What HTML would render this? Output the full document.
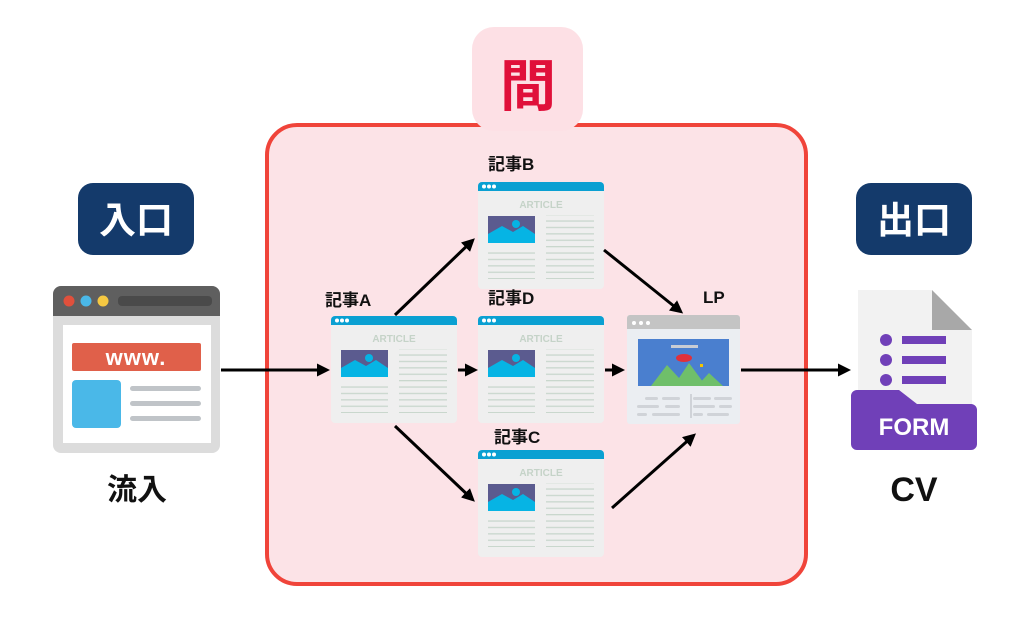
<!DOCTYPE html>
<html><head><meta charset="utf-8"><style>
html,body{margin:0;padding:0;background:#fff;width:1024px;height:625px;overflow:hidden}
svg{display:block}
text{font-family:"Liberation Sans","Noto Sans CJK JP",sans-serif;font-weight:bold}
</style></head><body>
<svg width="1024" height="625" viewBox="0 0 1024 625" xmlns="http://www.w3.org/2000/svg">
<defs>
<pattern id="ln" width="10" height="6.4" patternUnits="userSpaceOnUse"><rect width="10" height="1.3" fill="#c9d7cd"/></pattern>
<marker id="ah" markerWidth="13" markerHeight="13" refX="9" refY="6.5" orient="auto" markerUnits="userSpaceOnUse"><path d="M0,0 L13,6.5 L0,13 z" fill="#000"/></marker>
</defs>

<rect x="267" y="125" width="539" height="459" rx="30" fill="#fce3e7" stroke="#f0443a" stroke-width="4"/>
<rect x="472" y="27" width="111" height="104" rx="22" fill="#fde0e5"/>
<text x="528" y="106" font-size="56" fill="#e0103a" text-anchor="middle">間</text>

<rect x="78" y="183" width="116" height="72" rx="15" fill="#143a6b"/>
<text x="136" y="233" font-size="37" fill="#fff" text-anchor="middle">入口</text>
<rect x="856" y="183" width="116" height="72" rx="15" fill="#143a6b"/>
<text x="914" y="233" font-size="37" fill="#fff" text-anchor="middle">出口</text>

<rect x="53" y="286" width="167" height="167" rx="8" fill="#dcdcdc"/>
<path d="M53,294 a8,8 0 0 1 8,-8 h151 a8,8 0 0 1 8,8 v22 h-167z" fill="#5f5f5f"/>
<circle cx="69" cy="301" r="5.5" fill="#e0503c"/><circle cx="86" cy="301" r="5.5" fill="#4ab8e8"/><circle cx="103" cy="301" r="5.5" fill="#f5c842"/>
<rect x="118" y="296" width="94" height="10" rx="4" fill="#4a4a4a"/>
<rect x="63" y="325" width="148" height="118" fill="#fff"/>
<rect x="72" y="343" width="129" height="28" rx="2" fill="#e0604a"/>
<text x="136" y="365" font-size="22" fill="#fff" text-anchor="middle" letter-spacing="1">www.</text>
<rect x="72" y="380" width="49" height="48" rx="4" fill="#4ab8e8"/>
<rect x="130" y="386" width="71" height="5" rx="2.5" fill="#c0c4c8"/>
<rect x="130" y="401" width="71" height="5" rx="2.5" fill="#c0c4c8"/>
<rect x="130" y="416" width="71" height="5" rx="2.5" fill="#c0c4c8"/>
<text x="137" y="500" font-size="30" fill="#111" text-anchor="middle">流入</text>

<g transform="translate(331,316)">
<rect width="126" height="107" rx="4" fill="#efefef"/><path d="M0,4 a4,4 0 0 1 4,-4 h118 a4,4 0 0 1 4,4 v5 h-126z" fill="#0aa0d2"/>
<circle cx="6" cy="4.5" r="2" fill="#fff"/><circle cx="11" cy="4.5" r="2" fill="#fff"/><circle cx="16" cy="4.5" r="2" fill="#fff"/>
<text x="63" y="26" font-size="10" fill="#c5d3c8" text-anchor="middle">ARTICLE</text>
<rect x="10" y="34" width="47" height="27" fill="#5b5b8f"/><path d="M10,61 L10,52 L24,44 L35,50 L45,44 L57,52 L57,61z" fill="#06b4e4"/><circle cx="38" cy="42" r="4" fill="#06b4e4"/>
<rect x="68" y="33" width="48" height="64" fill="url(#ln)"/><rect x="10" y="67" width="47" height="30" fill="url(#ln)"/>
</g>
<g transform="translate(478,182)">
<rect width="126" height="107" rx="4" fill="#efefef"/><path d="M0,4 a4,4 0 0 1 4,-4 h118 a4,4 0 0 1 4,4 v5 h-126z" fill="#0aa0d2"/>
<circle cx="6" cy="4.5" r="2" fill="#fff"/><circle cx="11" cy="4.5" r="2" fill="#fff"/><circle cx="16" cy="4.5" r="2" fill="#fff"/>
<text x="63" y="26" font-size="10" fill="#c5d3c8" text-anchor="middle">ARTICLE</text>
<rect x="10" y="34" width="47" height="27" fill="#5b5b8f"/><path d="M10,61 L10,52 L24,44 L35,50 L45,44 L57,52 L57,61z" fill="#06b4e4"/><circle cx="38" cy="42" r="4" fill="#06b4e4"/>
<rect x="68" y="33" width="48" height="64" fill="url(#ln)"/><rect x="10" y="67" width="47" height="30" fill="url(#ln)"/>
</g>
<g transform="translate(478,316)">
<rect width="126" height="107" rx="4" fill="#efefef"/><path d="M0,4 a4,4 0 0 1 4,-4 h118 a4,4 0 0 1 4,4 v5 h-126z" fill="#0aa0d2"/>
<circle cx="6" cy="4.5" r="2" fill="#fff"/><circle cx="11" cy="4.5" r="2" fill="#fff"/><circle cx="16" cy="4.5" r="2" fill="#fff"/>
<text x="63" y="26" font-size="10" fill="#c5d3c8" text-anchor="middle">ARTICLE</text>
<rect x="10" y="34" width="47" height="27" fill="#5b5b8f"/><path d="M10,61 L10,52 L24,44 L35,50 L45,44 L57,52 L57,61z" fill="#06b4e4"/><circle cx="38" cy="42" r="4" fill="#06b4e4"/>
<rect x="68" y="33" width="48" height="64" fill="url(#ln)"/><rect x="10" y="67" width="47" height="30" fill="url(#ln)"/>
</g>
<g transform="translate(478,450)">
<rect width="126" height="107" rx="4" fill="#efefef"/><path d="M0,4 a4,4 0 0 1 4,-4 h118 a4,4 0 0 1 4,4 v5 h-126z" fill="#0aa0d2"/>
<circle cx="6" cy="4.5" r="2" fill="#fff"/><circle cx="11" cy="4.5" r="2" fill="#fff"/><circle cx="16" cy="4.5" r="2" fill="#fff"/>
<text x="63" y="26" font-size="10" fill="#c5d3c8" text-anchor="middle">ARTICLE</text>
<rect x="10" y="34" width="47" height="27" fill="#5b5b8f"/><path d="M10,61 L10,52 L24,44 L35,50 L45,44 L57,52 L57,61z" fill="#06b4e4"/><circle cx="38" cy="42" r="4" fill="#06b4e4"/>
<rect x="68" y="33" width="48" height="64" fill="url(#ln)"/><rect x="10" y="67" width="47" height="30" fill="url(#ln)"/>
</g>
<text x="325" y="306" font-size="17" fill="#111">記事A</text>
<text x="488" y="170" font-size="17" fill="#111">記事B</text>
<text x="488" y="304" font-size="17" fill="#111">記事D</text>
<text x="494" y="443" font-size="17" fill="#111">記事C</text>

<g transform="translate(627,315)">
<rect width="113" height="109" rx="3" fill="#ebeef2"/>
<path d="M0,3 a3,3 0 0 1 3,-3 h107 a3,3 0 0 1 3,3 v11 h-113z" fill="#c4c4c4"/>
<circle cx="7" cy="8" r="2" fill="#fff"/><circle cx="14" cy="8" r="2" fill="#fff"/><circle cx="21" cy="8" r="2" fill="#fff"/>
<rect x="11" y="24" width="91" height="47" fill="#4a7fcf"/>
<rect x="44" y="30" width="27" height="3" fill="#c8ccd4"/>
<ellipse cx="57" cy="43" rx="8" ry="4" fill="#e0303a"/>
<rect x="73" y="49" width="3" height="3" fill="#f5c400"/>
<path d="M24,71 L40,50 L52,63 L62,48 L79,71z" fill="#6fbf6a"/><path d="M70,71 L82,58 L96,71z" fill="#6fbf6a"/>
<g fill="#d0d3d8"><rect x="18" y="82" width="13" height="3" rx="1.5"/><rect x="35" y="82" width="18" height="3" rx="1.5"/><rect x="66" y="82" width="18" height="3" rx="1.5"/><rect x="87" y="82" width="18" height="3" rx="1.5"/>
<rect x="10" y="90" width="22" height="3" rx="1.5"/><rect x="38" y="90" width="15" height="3" rx="1.5"/><rect x="66" y="90" width="22" height="3" rx="1.5"/><rect x="92" y="90" width="13" height="3" rx="1.5"/>
<rect x="10" y="98" width="10" height="3" rx="1.5"/><rect x="25" y="98" width="28" height="3" rx="1.5"/><rect x="66" y="98" width="10" height="3" rx="1.5"/><rect x="80" y="98" width="22" height="3" rx="1.5"/>
<rect x="63" y="79" width="2" height="24"/></g>
</g>
<text x="703" y="303" font-size="17" fill="#111">LP</text>

<path d="M858,290 h74 l40,40 v110 h-114z" fill="#f2f2f2"/>
<path d="M932,290 v40 h40z" fill="#a8a8a8"/>
<g fill="#7040b8"><circle cx="886" cy="340" r="6"/><circle cx="886" cy="360" r="6"/><circle cx="886" cy="380" r="6"/>
<rect x="902" y="336" width="44" height="8"/><rect x="902" y="356" width="44" height="8"/><rect x="902" y="376" width="44" height="8"/>
<path d="M851,396 a6,6 0 0 1 6,-6 h42 l18,14 h54 a6,6 0 0 1 6,6 v34 a6,6 0 0 1 -6,6 h-114 a6,6 0 0 1 -6,-6z"/></g>
<text x="914" y="435" font-size="24" fill="#fff" text-anchor="middle">FORM</text>
<text x="914" y="501" font-size="34" fill="#111" text-anchor="middle">CV</text>

<g stroke="#000" stroke-width="3" fill="none" marker-end="url(#ah)">
<line x1="221" y1="370" x2="326" y2="370"/>
<line x1="395" y1="315" x2="472" y2="241"/>
<line x1="458" y1="370" x2="474" y2="370"/>
<line x1="605" y1="370" x2="621" y2="370"/>
<line x1="604" y1="250" x2="680" y2="311"/>
<line x1="395" y1="426" x2="472" y2="499"/>
<line x1="612" y1="508" x2="693" y2="436"/>
<line x1="741" y1="370" x2="847" y2="370"/>
</g>
</svg>
</body></html>
